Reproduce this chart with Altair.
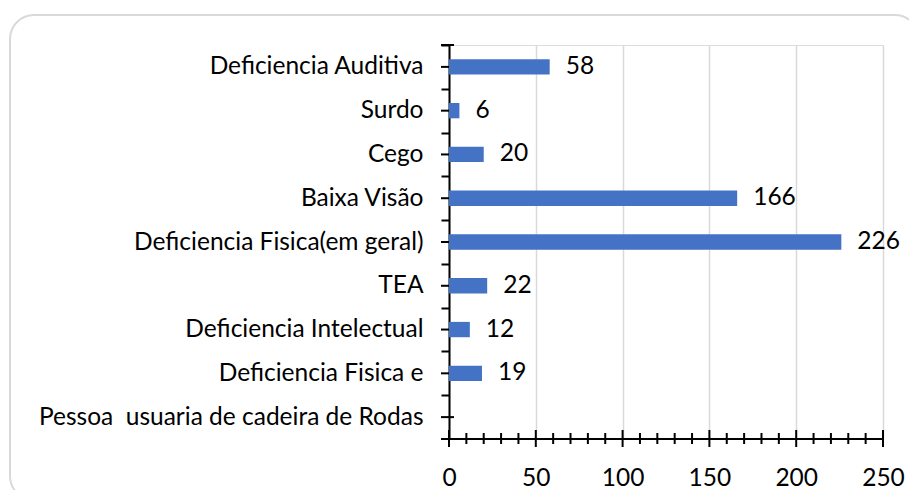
import altair as alt
import pandas as pd

categories = ["Deficiencia Auditiva\u00a0", "Surdo", "Cego", "Baixa Visão",
              "Deficiencia Fisica(em geral)", "TEA", "Deficiencia Intelectual",
              "Deficiencia Fisica e", "Pessoa\u00a0 usuaria de cadeira de Rodas"]
values = [58, 6, 20, 166, 226, 22, 12, 19, None]
x_labels = [0, 50, 100, 150, 200, 250]
minor_ticks = [10, 20, 30, 40, 60, 70, 80, 90, 110, 120, 130, 140, 160, 170, 180, 190,
               210, 220, 230, 240]

FONT = "Lato"
FS = 24.5
BLUE = "#4472C4"
H = 394
STEP = H / len(categories)

df = pd.DataFrame({"cat": categories, "val": values})
df_bars = df.dropna()
df_major = pd.DataFrame({"t": x_labels})
df_minor = pd.DataFrame({"t": minor_ticks})
df_one = pd.DataFrame({"a": [1]})

xscale = alt.Scale(domain=[0, 250], nice=False, zero=True)
yscale = alt.Scale(domain=categories, paddingInner=0.65, paddingOuter=0.325)

xaxis = alt.Axis(values=x_labels, grid=True, gridColor="#d9d9d9", gridWidth=1.5,
                 ticks=False, domain=False, labelFont=FONT, labelFontSize=FS,
                 labelColor="black", labelPadding=27, labelFlush=False)
yaxis = alt.Axis(domainColor="black", domainWidth=2, tickColor="black",
                 tickWidth=2, tickSize=8, tickOffset=-STEP / 2, labelOffset=STEP / 2,
                 labelFont=FONT, labelFontSize=FS, labelColor="black", labelPadding=18,
                 labelLimit=0, grid=False)

Y = alt.Y("cat:N", scale=yscale, sort=categories, title=None, axis=yaxis)
X = lambda f: alt.X(f, scale=xscale, title=None, axis=xaxis)

border = alt.Chart(df_one).mark_rect(
    filled=False, stroke="#d9d9d9", strokeWidth=2, cornerRadius=24
).encode(x=alt.value(-439), x2=alt.value(470), y=alt.value(-30), y2=alt.value(455))

center_ticks = alt.Chart(df).mark_rule(color="black", strokeWidth=2).encode(
    y=Y, x=alt.value(-8), x2=alt.value(5)
)

bars = alt.Chart(df_bars).mark_bar(color=BLUE).encode(x=X("val:Q"), y=Y)

labels = alt.Chart(df_bars).mark_text(
    align="left", baseline="middle", dx=16, font=FONT, fontSize=FS, color="black"
).encode(x=X("val:Q"), y=Y, text=alt.Text("val:Q", format="d"))

x_domain = alt.Chart(df_one).mark_rule(color="black", strokeWidth=2).encode(
    x=alt.value(-8), x2=alt.value(434), y=alt.value(H)
)
top_tick = alt.Chart(df_one).mark_rule(color="black", strokeWidth=2).encode(
    x=alt.value(-8), x2=alt.value(5), y=alt.value(0)
)

major = alt.Chart(df_major).mark_rule(color="black", strokeWidth=2).encode(
    x=X("t:Q"), y=alt.value(385), y2=alt.value(402)
)
minor = alt.Chart(df_minor).mark_rule(color="black", strokeWidth=2).encode(
    x=X("t:Q"), y=alt.value(388), y2=alt.value(399)
)

chart = alt.layer(border, center_ticks, bars, labels, x_domain, top_tick, major, minor).properties(
    width=434, height=H,
    autosize=alt.AutoSizeParams(type="none"),
    padding={"left": 441, "top": 37, "right": 26, "bottom": 51},
).configure_view(strokeWidth=0).configure(background="white")

chart.save("out.html", embed_options={"renderer": "svg", "actions": False})
